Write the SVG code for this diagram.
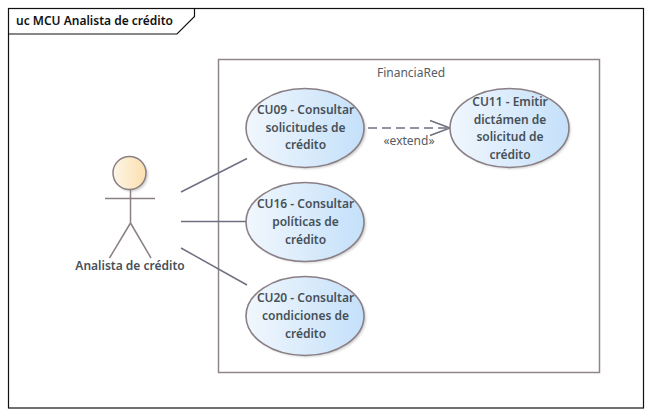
<svg xmlns="http://www.w3.org/2000/svg" width="651" height="416" viewBox="0 0 651 416">
<style>
text{font-family:"Noto Sans","Liberation Sans",sans-serif;text-anchor:middle}
.uc{fill:url(#ug);stroke:#8a7f85;stroke-width:1.6}
.sh{fill:#a8a8a8;opacity:.55;filter:url(#bl)}
.lb{font-size:12px;font-weight:600;fill:#465058}
.ln{stroke:#6f7080;stroke-width:1.5;fill:none}
.ac{stroke:#8a7f85;stroke-width:1.5;fill:none}
</style>
<defs>
<linearGradient id="ug" x1="0" y1="0" x2="1" y2="0"><stop offset="0" stop-color="#f1f7fd"/><stop offset="1" stop-color="#c4e0fa"/></linearGradient>
<linearGradient id="ag" x1="0" y1="0" x2="1" y2="0"><stop offset="0" stop-color="#fdf5e6"/><stop offset="1" stop-color="#fbdfae"/></linearGradient>
<filter id="bl" x="-20%" y="-20%" width="140%" height="140%"><feGaussianBlur stdDeviation="1.2"/></filter>
</defs>
<rect width="651" height="416" fill="#fff"/>
<g id="frame">
<rect x="8.5" y="8.5" width="635" height="399.5" fill="none" stroke="#111" stroke-width="1.2"/>
<path d="M8.5 34H177L194.500 16.500V8.500" fill="none" stroke="#111" stroke-width="1.2"/>
<text x="94.500" y="25" style="font-size:12px;font-weight:600;fill:#111">uc MCU Analista de crédito</text>
</g>
<g id="system">
<rect x="218.500" y="59.500" width="381" height="313" fill="#fff" stroke="#8f868b" stroke-width="1.5"/>
<text x="411" y="77" style="font-size:12px;fill:#555c63">FinanciaRed</text>
</g>
<g id="connectors">
<path class="ln" d="M181 192L247 158.500"/>
<path class="ln" d="M181 221.500H247"/>
<path class="ln" d="M181 248L247 285"/>
<path class="ln" d="M368 128H449" stroke-dasharray="9 5"/>
<path class="ln" d="M430 120.500L450 128L430 135.500"/>
<text x="409" y="145" style="font-size:12px;fill:#555c63">«extend»</text>
</g>
<g id="actor">
<circle class="sh" cx="131.500" cy="175" r="16.500"/>
<circle cx="129.500" cy="173" r="16.500" fill="url(#ag)" stroke="#8a7f85" stroke-width="1.5"/>
<path class="ac" d="M105 198.500H155M130.500 190V223M130.500 223L109.500 258M130.500 223L151 258"/>
<text class="lb" x="130" y="270">Analista de crédito</text>
</g>
<g id="cu09">
<ellipse class="sh" cx="307" cy="130" rx="59" ry="39"/>
<ellipse class="uc" cx="305" cy="128" rx="59" ry="39.500"/>
<text class="lb" x="305.500" y="114">CU09 - Consultar</text>
<text class="lb" x="305.500" y="132">solicitudes de</text>
<text class="lb" x="305.500" y="149">crédito</text>
</g>
<g id="cu11">
<ellipse class="sh" cx="511.500" cy="130" rx="59" ry="39"/>
<ellipse class="uc" cx="509.500" cy="128" rx="59.500" ry="39.500"/>
<text class="lb" x="510" y="106">CU11 - Emitir</text>
<text class="lb" x="510" y="124">dictámen de</text>
<text class="lb" x="510" y="141">solicitud de</text>
<text class="lb" x="510" y="159">crédito</text>
</g>
<g id="cu16">
<ellipse class="sh" cx="307" cy="224" rx="59" ry="39"/>
<ellipse class="uc" cx="305" cy="222" rx="59" ry="39.500"/>
<text class="lb" x="305.500" y="208">CU16 - Consultar</text>
<text class="lb" x="305.500" y="226">políticas de</text>
<text class="lb" x="305.500" y="244">crédito</text>
</g>
<g id="cu20">
<ellipse class="sh" cx="307" cy="318" rx="59" ry="39"/>
<ellipse class="uc" cx="305" cy="316" rx="59" ry="39.500"/>
<text class="lb" x="305.500" y="302">CU20 - Consultar</text>
<text class="lb" x="305.500" y="320">condiciones de</text>
<text class="lb" x="305.500" y="338">crédito</text>
</g>
</svg>
